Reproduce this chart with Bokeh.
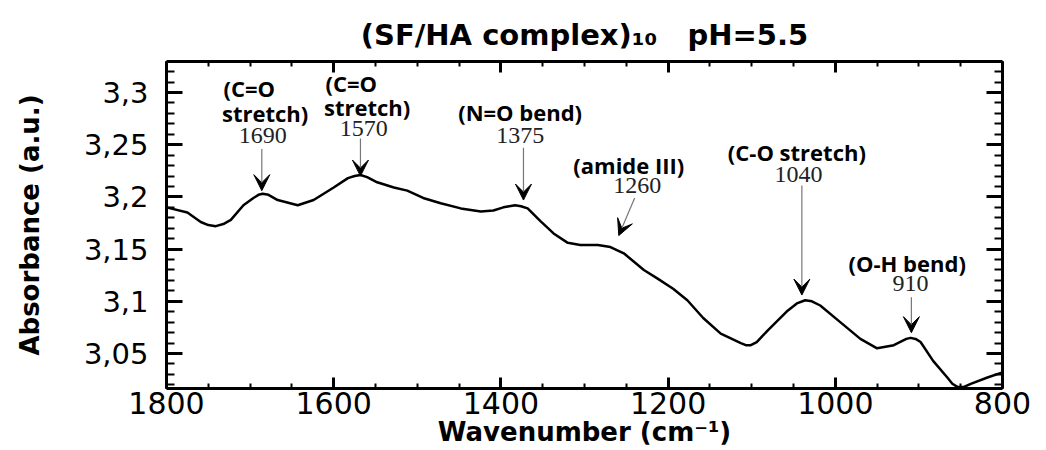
from bokeh.plotting import figure
from bokeh.models import (Range1d, LinearAxis, SingleIntervalTicker, CustomJSTickFormatter,
                          Arrow, VeeHead, ColumnDataSource, Title)
from bokeh.core.properties import value
from bokeh.embed import file_html
from bokeh.resources import INLINE

# ---- spectrum ----
wavenumber = [1800, 1775, 1759, 1750, 1741, 1732, 1723, 1708, 1696, 1690, 1685, 1678, 1667, 1643,
              1624, 1600, 1583, 1575, 1568, 1560, 1548, 1528, 1512, 1493, 1472, 1448, 1424, 1409,
              1397, 1390, 1383, 1376, 1368, 1353, 1337, 1320, 1305, 1284, 1269, 1253, 1229, 1213,
              1194, 1177, 1158, 1137, 1113, 1107, 1101, 1094, 1081, 1057, 1046, 1036, 1028, 1018,
              997, 970, 950, 930, 915, 910, 904, 898, 883, 866, 860, 854, 846, 838, 818, 800]
absorbance = [3.190, 3.185, 3.176, 3.173, 3.172, 3.174, 3.178, 3.192, 3.199, 3.202, 3.203, 3.202,
              3.197, 3.192, 3.197, 3.209, 3.218, 3.220, 3.221, 3.219, 3.214, 3.209, 3.206, 3.199,
              3.194, 3.189, 3.186, 3.187, 3.190, 3.191, 3.192, 3.191, 3.189, 3.177, 3.165, 3.156,
              3.154, 3.154, 3.152, 3.146, 3.130, 3.122, 3.112, 3.101, 3.084, 3.069, 3.060, 3.058,
              3.058, 3.061, 3.072, 3.091, 3.098, 3.101, 3.100, 3.096, 3.082, 3.064, 3.055, 3.058,
              3.064, 3.065, 3.064, 3.061, 3.043, 3.027, 3.021, 3.018, 3.018, 3.021, 3.027, 3.032]

# ---- band assignments ----
band_names = ["(C=O", "stretch)", "(C=O", "stretch)", "(N=O bend)", "(amide III)",
              "(C-O stretch)", "(O-H bend)"]
band_names_x = [1701, 1682, 1579, 1560, 1377, 1247, 1046, 914]
band_names_y = [3.304, 3.280, 3.309, 3.286, 3.281, 3.231, 3.243, 3.137]

band_values = ["1690", "1570", "1375", "1260", "1040", "910"]
band_values_x = [1685, 1564, 1377, 1237, 1044, 910]
band_values_y = [3.259, 3.266, 3.259, 3.211, 3.221, 3.117]

arrow_x0 = [1686, 1568, 1373, 1240, 1040, 909]
arrow_y0 = [3.246, 3.256, 3.247, 3.199, 3.211, 3.104]
arrow_x1 = [1686, 1568, 1373, 1259, 1040, 909]
arrow_y1 = [3.206, 3.220, 3.197, 3.163, 3.106, 3.070]

x_major_step = 200
y_major_step = 0.05

p = figure(width=1046, height=450, output_backend="svg", toolbar_location=None,
           x_range=Range1d(1800, 800), y_range=Range1d(3.0165, 3.3297),
           min_border_left=166, min_border_right=44, min_border_top=61, min_border_bottom=62,
           background_fill_color="white", border_fill_color="white")
p.outline_line_color = None
p.xgrid.visible = False
p.ygrid.visible = False

NB = "\u00a0"
p.title = Title(text="(SF/HA complex)\u2081\u2080" + NB * 3 + "pH=5.5", align="center",
                text_font="DejaVu Sans", text_font_size="29px", text_font_style="bold",
                text_color="black", standoff=19)

def style_axis(ax, major_in, minor_in):
    ax.axis_line_width = 3
    ax.axis_line_color = "black"
    ax.major_tick_in = major_in
    ax.major_tick_out = 0
    ax.minor_tick_in = minor_in
    ax.minor_tick_out = 0
    ax.major_tick_line_width = 3
    ax.minor_tick_line_width = 2
    ax.major_tick_line_color = "black"
    ax.minor_tick_line_color = "black"

xfmt = CustomJSTickFormatter(code="return Math.round(tick).toString();")
yfmt = CustomJSTickFormatter(code="return (Math.round(tick*100)/100).toString().replace('.', ',');")
nofmt = CustomJSTickFormatter(code="return '';")

xa = p.xaxis[0]
xa.ticker = SingleIntervalTicker(interval=x_major_step, num_minor_ticks=4)
xa.formatter = xfmt
style_axis(xa, 11, 5)
xa.major_label_text_font = "DejaVu Sans"
xa.major_label_text_font_size = "30px"
xa.major_label_text_color = "black"
xa.major_label_standoff = 3
xa.axis_label = "Wavenumber (cm\u207b\u00b9)"
xa.axis_label_text_font = "DejaVu Sans"
xa.axis_label_text_font_style = "bold"
xa.axis_label_text_font_size = "26px"
xa.axis_label_text_color = "black"
xa.axis_label_standoff = 0

ya = p.yaxis[0]
ya.ticker = SingleIntervalTicker(interval=y_major_step, num_minor_ticks=5)
ya.formatter = yfmt
style_axis(ya, 16, 8)
ya.major_label_text_font = "DejaVu Sans"
ya.major_label_text_font_size = "29px"
ya.major_label_text_color = "black"
ya.major_label_standoff = 18
ya.axis_label = "Absorbance (a.u.)"
ya.axis_label_text_font = "DejaVu Sans"
ya.axis_label_text_font_style = "bold"
ya.axis_label_text_font_size = "26px"
ya.axis_label_text_color = "black"
ya.axis_label_standoff = 36

top = LinearAxis(ticker=SingleIntervalTicker(interval=x_major_step, num_minor_ticks=4), formatter=nofmt,
                 major_label_standoff=0)
style_axis(top, 11, 5)
p.add_layout(top, "above")

right = LinearAxis(ticker=SingleIntervalTicker(interval=y_major_step, num_minor_ticks=5), formatter=nofmt,
                   major_label_standoff=0)
style_axis(right, 16, 8)
p.add_layout(right, "right")

# spectrum
p.line(wavenumber, absorbance, line_color="black", line_width=2.5, line_join="round")

# arrows
asrc = ColumnDataSource(dict(x0=arrow_x0, y0=arrow_y0, x1=arrow_x1, y1=arrow_y1))
p.add_layout(Arrow(x_start="x0", y_start="y0", x_end="x1", y_end="y1", source=asrc,
                   line_color="#777777", line_width=1.2,
                   end=VeeHead(size=16, fill_color="black", line_color="black", line_width=1)))

# texts
nsrc = ColumnDataSource(dict(x=band_names_x, y=band_names_y, t=band_names))
p.text(x="x", y="y", text="t", source=nsrc, text_font=value("Open Sans"), text_font_style="bold",
       text_font_size="22px", text_align="center", text_baseline="middle", text_color="black")
vsrc = ColumnDataSource(dict(x=band_values_x, y=band_values_y, t=band_values))
p.text(x="x", y="y", text="t", source=vsrc, text_font=value("Liberation Serif"),
       text_font_size="24px", text_align="center", text_baseline="middle", text_color="#222222")

open("out.html", "w").write(file_html(p, INLINE))
